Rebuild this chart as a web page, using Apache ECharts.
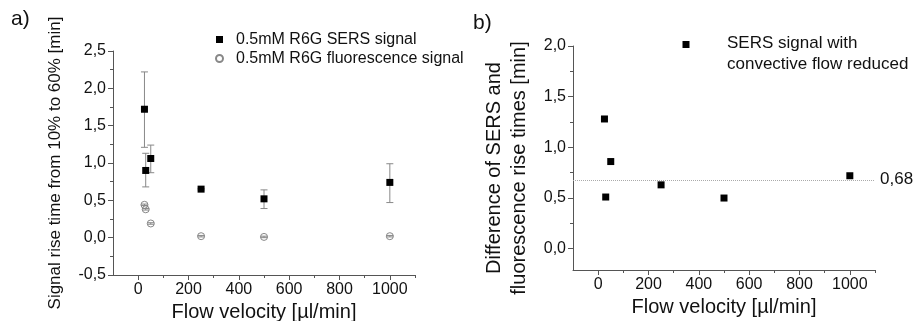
<!DOCTYPE html>
<html>
<head>
<meta charset="utf-8">
<script src="https://cdn.jsdelivr.net/npm/echarts@6/dist/echarts.min.js"></script>
<style>
html,body{margin:0;padding:0;background:#fff;}
#c{width:914px;height:321px;}
</style>
</head>
<body>
<div id="c"></div>
<script>
// ---- data (panel a) ----
const velocityA = [25, 30, 50, 250, 500, 1000];
const sersRise = [1.72, 0.90, 1.06, 0.65, 0.52, 0.74];
const sersErrLow = [1.21, 0.68, 0.87, 0.64, 0.39, 0.47];
const sersErrHigh = [2.22, 1.13, 1.24, 0.66, 0.64, 0.99];
const velocityF = [25, 30, 50, 250, 500, 1000];
const fluorRise = [0.44, 0.38, 0.19, 0.02, 0.01, 0.02];
const fluorErrLow = [0.43, 0.37, 0.18, 0.01, 0.00, 0.01];
const fluorErrHigh = [0.45, 0.39, 0.20, 0.03, 0.02, 0.03];
// ---- data (panel b) ----
const velocityB = [25, 30, 50, 250, 500, 1000];
const riseDiff = [1.28, 0.51, 0.86, 0.63, 0.50, 0.72];
const meanDiff = 0.68;
// ---- ticks ----
const xTicks = [0, 200, 400, 600, 800, 1000];
const xMinorTicks = [100, 300, 500, 700, 900, 1100];
const yTicksA = [-0.5, 0, 0.5, 1.0, 1.5, 2.0, 2.5];
const yMinorA = [-0.25, 0.25, 0.75, 1.25, 1.75, 2.25];
const yTicksB = [0, 0.5, 1.0, 1.5, 2.0];
const yMinorB = [0.25, 0.75, 1.25, 1.75];

const FONT = '"Liberation Sans", Arial, sans-serif';
const TXT = '#111';
const AX = '#555';
const fmtDec = v => v.toFixed(1).replace('.', ',');

function majorX(grid) {
  return {
    type: 'value', gridIndex: grid, min: -100, max: 1100, position: 'bottom',
    axisLine: {show: true, onZero: false, lineStyle: {color: AX, width: 1}},
    axisTick: {show: true, length: 5, lineStyle: {color: AX}, customValues: xTicks},
    axisLabel: {show: true, customValues: xTicks, fontSize: 16, fontFamily: FONT, color: TXT, margin: 7, formatter: v => String(v)},
    splitLine: {show: false},
    name: 'Flow velocity [µl/min]', nameLocation: 'middle', nameGap: 27,
    nameTextStyle: {fontSize: 20, fontFamily: FONT, color: TXT}
  };
}
function minorX(grid) {
  return {
    type: 'value', gridIndex: grid, min: -100, max: 1100, position: 'bottom',
    axisLine: {show: false, onZero: false},
    axisTick: {show: true, length: 3, lineStyle: {color: AX}, customValues: xMinorTicks},
    axisLabel: {show: false}, splitLine: {show: false}
  };
}
function majorY(grid, min, max, ticks) {
  return {
    type: 'value', gridIndex: grid, min: min, max: max, position: 'left',
    axisLine: {show: true, onZero: false, lineStyle: {color: AX, width: 1}},
    axisTick: {show: true, length: 5, lineStyle: {color: AX}, customValues: ticks},
    axisLabel: {show: true, customValues: ticks, fontSize: 16, fontFamily: FONT, color: TXT, margin: 7, formatter: fmtDec},
    splitLine: {show: false}
  };
}
function minorY(grid, min, max, ticks) {
  return {
    type: 'value', gridIndex: grid, min: min, max: max, position: 'left',
    axisLine: {show: false, onZero: false},
    axisTick: {show: true, length: 3, lineStyle: {color: AX}, customValues: ticks},
    axisLabel: {show: false}, splitLine: {show: false}
  };
}

function errorRender(params, api) {
  const x = api.value(0), lo = api.value(1), hi = api.value(2);
  const pHi = api.coord([x, hi]);
  const pLo = api.coord([x, lo]);
  const w = 3.5;
  const style = {stroke: '#888', lineWidth: 1, fill: null};
  return {
    type: 'group',
    children: [
      {type: 'line', shape: {x1: pHi[0], y1: pHi[1], x2: pLo[0], y2: pLo[1]}, style: style},
      {type: 'line', shape: {x1: pHi[0] - w, y1: pHi[1], x2: pHi[0] + w, y2: pHi[1]}, style: style},
      {type: 'line', shape: {x1: pLo[0] - w, y1: pLo[1], x2: pLo[0] + w, y2: pLo[1]}, style: style}
    ]
  };
}

const yA = majorY(0, -0.5, 2.5, yTicksA);
yA.name = 'Signal rise time from 10% to 60% [min]';
yA.nameLocation = 'middle';
yA.nameGap = 49;
yA.nameTextStyle = {fontSize: 17, fontFamily: FONT, color: TXT};

const option = {
  animation: false,
  backgroundColor: '#fff',
  textStyle: {fontFamily: FONT},
  grid: [
    {left: 113, top: 51, width: 302, height: 224, outerBoundsMode: 'none', containLabel: false},
    {left: 573, top: 46, width: 302, height: 224, outerBoundsMode: 'none', containLabel: false}
  ],
  xAxis: [majorX(0), minorX(0), majorX(1), minorX(1)],
  yAxis: [yA, minorY(0, -0.5, 2.5, yMinorA), majorY(1, -0.21, 2.0, yTicksB), minorY(1, -0.21, 2.0, yMinorB)],
  legend: [{
    orient: 'vertical', left: 210, top: 25, itemWidth: 7, itemHeight: 7, itemGap: 0,
    textStyle: {fontSize: 16, fontFamily: FONT, color: TXT, lineHeight: 19, padding: [0, 0, 0, 8]},
    data: ['0.5mM R6G SERS signal', '0.5mM R6G fluorescence signal']
  }],
  graphic: [
    {type: 'text', left: 11, top: 9, style: {text: 'a)', fontSize: 21, fontFamily: FONT, fill: TXT}},
    {type: 'text', left: 473, top: 13, style: {text: 'b)', fontSize: 21, fontFamily: FONT, fill: TXT}},
    {type: 'text', x: 507, y: 168, rotation: Math.PI / 2,
     style: {text: 'Difference of SERS and\nfluorescence rise times [min]', fontSize: 20, fontFamily: FONT, fill: TXT,
             align: 'center', verticalAlign: 'middle', lineHeight: 25}},
    {type: 'rect', shape: {x: 682.5, y: 41, width: 7, height: 7}, style: {fill: '#000'}},
    {type: 'text', x: 727, y: 33, style: {text: 'SERS signal with\nconvective flow reduced', fontSize: 17, fontFamily: FONT, fill: TXT, lineHeight: 21}}
  ],
  series: [
    {
      type: 'custom', name: 'errA', xAxisIndex: 0, yAxisIndex: 0, z: 1, silent: true,
      renderItem: errorRender, encode: {x: 0, y: [1, 2]},
      data: velocityA.map((v, i) => [v, sersErrLow[i], sersErrHigh[i]])
    },
    {
      type: 'custom', name: 'errF', xAxisIndex: 0, yAxisIndex: 0, z: 1, silent: true,
      renderItem: errorRender, encode: {x: 0, y: [1, 2]},
      data: velocityF.map((v, i) => [v, fluorErrLow[i], fluorErrHigh[i]])
    },
    {
      type: 'scatter', name: '0.5mM R6G SERS signal', xAxisIndex: 0, yAxisIndex: 0, z: 3,
      symbol: 'rect', symbolSize: 7, itemStyle: {color: '#000', opacity: 1},
      data: velocityA.map((v, i) => [v, sersRise[i]])
    },
    {
      type: 'scatter', name: '0.5mM R6G fluorescence signal', xAxisIndex: 0, yAxisIndex: 0, z: 2,
      symbol: 'circle', symbolSize: 7, itemStyle: {color: 'rgba(255,255,255,0)', borderColor: '#888', borderWidth: 1, opacity: 1},
      data: velocityF.map((v, i) => [v, fluorRise[i]])
    },
    {
      type: 'scatter', name: 'SERS signal with convective flow reduced', xAxisIndex: 2, yAxisIndex: 2, z: 3,
      symbol: 'rect', symbolSize: 7, itemStyle: {color: '#000', opacity: 1},
      data: velocityB.map((v, i) => [v, riseDiff[i]]),
      markLine: {
        silent: true, symbol: 'none',
        lineStyle: {color: '#aaa', type: 'dotted', width: 1},
        label: {show: true, position: 'end', distance: 5, formatter: String(meanDiff).replace('.', ','), fontSize: 17, fontFamily: FONT, color: TXT},
        data: [{yAxis: meanDiff}]
      }
    }
  ]
};

const chart = echarts.init(document.getElementById('c'), null, {renderer: 'canvas'});
chart.setOption(option);
</script>
</body>
</html>
